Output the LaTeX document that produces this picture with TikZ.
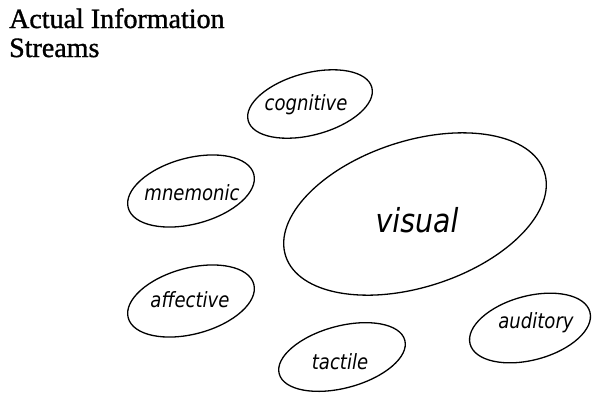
\documentclass[tikz,border=0pt]{standalone}
\usepackage{fontspec}
\setmainfont{Liberation Serif}
\newfontfamily\titlefont{Liberation Serif}[FakeBold=1.2]
\newfontfamily\labfont{DejaVu Sans}[FakeStretch=0.86]
\usetikzlibrary{shapes.geometric}
\tikzset{
  oval/.style={draw=black, line width=1.3bp, ellipse, inner sep=0pt, rotate=15},
  lab/.style={font=\labfont\itshape\fontsize{21bp}{23bp}\selectfont, text=black, inner sep=0pt},
  bigLab/.style={font=\labfont\itshape\fontsize{33bp}{36bp}\selectfont, text=black, inner sep=0pt},
  titletext/.style={font=\titlefont\fontsize{28bp}{31bp}\selectfont, inner sep=0pt, anchor=base west}
}
\begin{document}
\begin{tikzpicture}[x=1bp,y=1bp]
\useasboundingbox (0,0) rectangle (592,-395);
\node[titletext] (title1) at (9,-28) {Actual Information};
\node[titletext] (title2) at (9,-57) {Streams};
% ellipses
\node[oval, minimum width=128bp, minimum height=62bp] (cog) at (310,-104) {};
\node[oval, minimum width=130bp, minimum height=66bp] (mne) at (191,-191) {};
\node[oval, minimum width=272bp, minimum height=146bp, rotate=3] (vis) at (415,-214) {};
\node[oval, minimum width=130bp, minimum height=66bp] (aff) at (191,-301) {};
\node[oval, minimum width=130bp, minimum height=62bp] (tac) at (342,-357) {};
\node[oval, minimum width=124bp, minimum height=64bp] (aud) at (530,-328) {};
% labels
\node[lab] (cogL) at (306,-105) {cognitive};
\node[lab] (mneL) at (192,-193) {mnemonic};
\node[bigLab] (visL) at (417,-220) {visual};
\node[lab] (affL) at (190,-300) {affective};
\node[lab] (tacL) at (340,-362) {tactile};
\node[lab] (audL) at (536,-323) {auditory};
\end{tikzpicture}
\end{document}
